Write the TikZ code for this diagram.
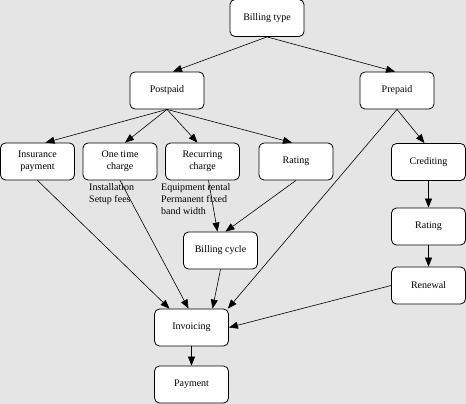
\documentclass[tikz,border=0pt]{standalone}
\usepackage{fontspec}
\setmainfont{Liberation Serif}
\usetikzlibrary{arrows.meta}
\definecolor{bg}{RGB}{229,229,229}
\begin{document}
\begin{tikzpicture}[x=1pt,y=-1pt,
  box/.style={draw=black,fill=white,line width=0.8pt,rounded corners=5pt,
    minimum width=74pt,minimum height=37pt,inner sep=1pt,align=center,
    font=\fontsize{10}{12}\selectfont},
  note/.style={anchor=north west,inner sep=0pt,align=left,
    font=\fontsize{10}{12}\selectfont},
  edge/.style={draw=black,line width=0.6pt,-{Triangle[length=9pt,width=7pt]}}]
\fill[bg] (0,0) rectangle (466,404);
\useasboundingbox (0,0) rectangle (466,404);
\node[box] (bt) at (267,18) {Billing type};
\node[box] (post) at (167,90.5) {Postpaid};
\node[box] (pre) at (397,90.5) {Prepaid};
\node[box] (ins) at (37.5,161.5) {Insurance\\payment};
\node[box] (one) at (120,161.5) {One time\\charge};
\node[box] (rec) at (202.5,161.5) {Recurring\\charge};
\node[box] (rat) at (296,161.5) {Rating};
\node[box] (bc) at (220.5,250.5) {Billing cycle};
\node[box] (cred) at (428.5,162) {Crediting};
\node[box] (rat2) at (428.5,226.5) {Rating};
\node[box] (ren) at (428.5,285.5) {Renewal};
\node[box] (inv) at (191.5,327.5) {Invoicing};
\node[box] (pay) at (191.5,384.5) {Payment};
\node[note] (n1) at (89,183) {Installation\\Setup fees};
\node[note] (n2) at (161,183) {Equipment rental\\Permanent fixed\\band width};
\draw[edge] (bt.south) -- ([xshift=6pt]post.north);
\draw[edge] (bt.south) -- ([xshift=-2pt]pre.north);
\draw[edge] (post.south) -- ([xshift=8pt]ins.north);
\draw[edge] (post.south) -- ([xshift=5pt]one.north);
\draw[edge] (post.south) -- ([xshift=-5pt]rec.north);
\draw[edge] (post.south) -- ([xshift=-4pt]rat.north);
\draw[edge] (pre.south) -- ([xshift=-4pt]cred.north);
\draw[edge] (pre.south) -- ([xshift=-1pt]inv.north east);
\draw[edge] (ins.south) -- ([xshift=-22pt]inv.north);
\draw[edge] (one.south) -- ([xshift=-3pt]inv.north);
\draw[edge] ([xshift=6pt]rec.south) -- ([xshift=-3pt]bc.north);
\draw[edge] (rat.south) -- ([xshift=5pt]bc.north);
\draw[edge] (bc.south) -- ([xshift=21pt]inv.north);
\draw[edge] (ren.west) -- (inv.east);
\draw[edge] (cred.south) -- (rat2.north);
\draw[edge] (rat2.south) -- (ren.north);
\draw[edge] (inv.south) -- (pay.north);
\end{tikzpicture}
\end{document}
